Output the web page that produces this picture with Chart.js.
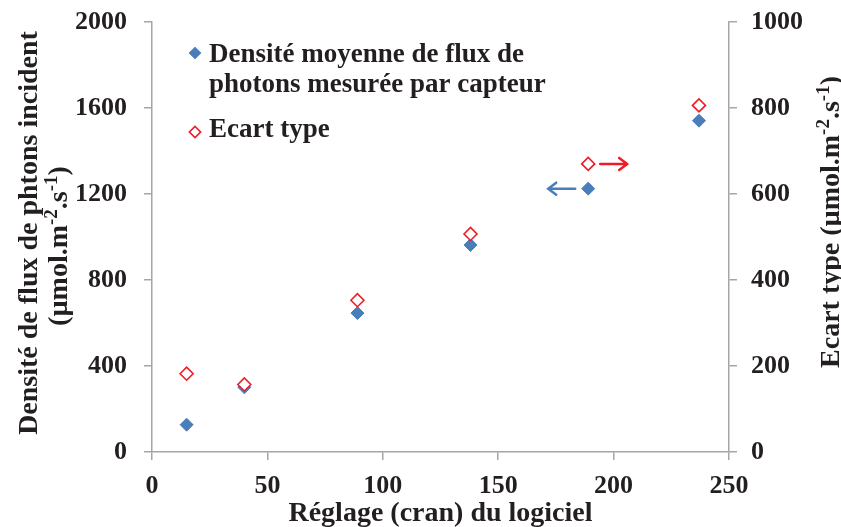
<!DOCTYPE html>
<html>
<head>
<meta charset="utf-8">
<script src="https://cdn.jsdelivr.net/npm/chart.js@4.4.1/dist/chart.umd.min.js"></script>
<style>
  html, body { margin: 0; padding: 0; background: #fff; }
  #wrap { width: 841px; height: 527px; position: relative; }
</style>
</head>
<body>
<div id="wrap"><canvas id="chart"></canvas></div>
<script>
// Réglage du logiciel (cran) and the two measured series
const settings = [15, 40, 89, 138, 189, 237];
const meanFlux = [127, 301, 646, 963, 1225, 1541];   // left axis
const stdDev   = [182, 157, 353, 507, 670, 806];     // right axis

const xTicks = [0, 50, 100, 150, 200, 250];
const leftTicks = [0, 400, 800, 1200, 1600, 2000];
const rightTicks = [0, 200, 400, 600, 800, 1000];

const legendLines = [
  ['Densité moyenne de flux de', 'photons mesurée par capteur'],
  ['Ecart type'],
];

// axis titles as runs of text; sup runs are drawn as superscripts
const unitRuns = [
  { t: '(µmol.m' }, { t: '-2', sup: true }, { t: '.s' }, { t: '-1', sup: true }, { t: ')' },
];
const xTitle = [{ t: 'Réglage (cran) du logiciel' }];
const leftTitle1 = [{ t: 'Densité de flux de phtons incident' }];
const leftTitle2 = unitRuns;
const rightTitle = [{ t: 'Ecart type ' }].concat(unitRuns);

const COLORS = {
  blue: '#4a7ebb',
  red: '#ee1c25',
  axis: '#a6a6a6',
  text: '#231f20',
};
const FONT = 'Liberation Serif';
const TITLE_SIZE = 28;

const tickFont = { family: FONT, size: 26, weight: 'bold' };

function drawRuns(ctx, runs, size) {
  const main = `bold ${size}px "${FONT}"`;
  const small = `bold ${Math.round(size * 0.68)}px "${FONT}"`;
  let w = 0;
  runs.forEach(r => { ctx.font = r.sup ? small : main; w += ctx.measureText(r.t).width; });
  let x = -w / 2;
  runs.forEach(r => {
    ctx.font = r.sup ? small : main;
    ctx.fillText(r.t, x, r.sup ? -size * 0.36 : 0);
    x += ctx.measureText(r.t).width;
  });
}

// cx, cy: centre along the text, baseline position across it
function drawTitle(ctx, runs, cx, cy, vertical) {
  ctx.save();
  ctx.translate(cx, cy);
  if (vertical) ctx.rotate(-Math.PI / 2);
  ctx.fillStyle = COLORS.text;
  ctx.textBaseline = 'alphabetic';
  ctx.textAlign = 'left';
  drawRuns(ctx, runs, TITLE_SIZE);
  ctx.restore();
}

const axisTitles = {
  id: 'axisTitles',
  afterDraw(chart) {
    const { ctx, chartArea } = chart;
    const mid = (chartArea.left + chartArea.right) / 2;
    drawTitle(ctx, xTitle, mid, 521, false);
    drawTitle(ctx, leftTitle1, 37, 233, true);
    drawTitle(ctx, leftTitle2, 67, 246, true);
    drawTitle(ctx, rightTitle, 839, 222, true);
  },
};

// side arrows next to the 189 point, showing which axis each series uses
const arrowAt = 4;
const axisArrows = {
  id: 'axisArrows',
  afterDatasetsDraw(chart) {
    const { ctx, scales } = chart;
    const x = scales.x.getPixelForValue(settings[arrowAt]);
    const draw = (y, x0, x1, color) => {
      const dir = Math.sign(x1 - x0);
      ctx.save();
      ctx.strokeStyle = color;
      ctx.lineWidth = 2.5;
      ctx.lineCap = 'round';
      ctx.beginPath();
      ctx.moveTo(x0, y);
      ctx.lineTo(x1, y);
      ctx.moveTo(x1 - dir * 8, y - 6);
      ctx.lineTo(x1, y);
      ctx.lineTo(x1 - dir * 8, y + 6);
      ctx.stroke();
      ctx.restore();
    };
    draw(scales.y.getPixelForValue(meanFlux[arrowAt]), x - 13, x - 40, COLORS.blue);
    draw(scales.y2.getPixelForValue(stdDev[arrowAt]), x + 12, x + 39, COLORS.red);
  },
};

// two-line legend in the upper left of the plot
const legendBaselines = [[62, 92], [137]];
const legendMarkerY = [53, 132];
const sideLegend = {
  id: 'sideLegend',
  afterDraw(chart) {
    const { ctx } = chart;
    const mx = 195, tx = 209;
    ctx.save();
    ctx.font = `bold 27px "${FONT}"`;
    ctx.textBaseline = 'alphabetic';
    ctx.fillStyle = COLORS.text;
    chart.data.datasets.forEach((ds, i) => {
      ctx.save();
      ctx.translate(mx, legendMarkerY[i]);
      ctx.rotate(Math.PI / 4);
      ctx.fillStyle = ds.backgroundColor;
      ctx.strokeStyle = ds.borderColor;
      ctx.lineWidth = ds.borderWidth;
      ctx.beginPath();
      ctx.rect(-4, -4, 8, 8);
      ctx.fill();
      ctx.stroke();
      ctx.restore();
      legendLines[i].forEach((line, j) => ctx.fillText(line, tx, legendBaselines[i][j]));
    });
    ctx.restore();
  },
};

const tickGrid = {
  display: true,
  drawOnChartArea: false,
  drawTicks: true,
  tickLength: 8,
  color: COLORS.axis,
  lineWidth: 1.5,
};
const border = { display: true, color: COLORS.axis, width: 1.5 };
const plain = (v) => String(v);

// fixed box sizes so the plot area does not move with the label widths
function fixBox(size) {
  return (s) => {
    if (s.isHorizontal()) s.height = size; else s.width = size;
    s.paddingTop = 0; s.paddingBottom = 0; s.paddingLeft = 0; s.paddingRight = 0;
  };
}

new Chart(document.getElementById('chart'), {
  type: 'scatter',
  data: {
    datasets: [
      {
        label: legendLines[0].join(' '),
        data: settings.map((s, i) => ({ x: s, y: meanFlux[i] })),
        yAxisID: 'y',
        pointStyle: 'rectRot',
        pointRadius: 6.5,
        backgroundColor: COLORS.blue,
        borderColor: COLORS.blue,
        borderWidth: 1,
        order: 2,
      },
      {
        label: legendLines[1].join(' '),
        data: settings.map((s, i) => ({ x: s, y: stdDev[i] })),
        yAxisID: 'y2',
        pointStyle: 'rectRot',
        pointRadius: 6.5,
        backgroundColor: '#ffffff',
        borderColor: COLORS.red,
        borderWidth: 1.6,
        order: 1,
      },
    ],
  },
  options: {
    responsive: true,
    maintainAspectRatio: false,
    animation: false,
    layout: { padding: { top: 22, right: 0, bottom: 0, left: 0 } },
    plugins: { legend: { display: false }, tooltip: { enabled: false } },
    scales: {
      x: {
        type: 'linear',
        min: 0, max: 250,
        afterBuildTicks: (s) => { s.ticks = xTicks.map(v => ({ value: v })); },
        afterFit: fixBox(75),
        grid: tickGrid,
        border,
        ticks: { font: tickFont, color: COLORS.text, padding: 11, callback: plain },
      },
      y: {
        position: 'left',
        min: 0, max: 2000,
        afterBuildTicks: (s) => { s.ticks = leftTicks.map(v => ({ value: v })); },
        afterFit: fixBox(152),
        grid: tickGrid,
        border,
        ticks: { font: tickFont, color: COLORS.text, padding: 17, callback: plain },
      },
      y2: {
        position: 'right',
        min: 0, max: 1000,
        afterBuildTicks: (s) => { s.ticks = rightTicks.map(v => ({ value: v })); },
        afterFit: fixBox(112),
        grid: tickGrid,
        border,
        ticks: { font: tickFont, color: COLORS.text, padding: 14, callback: plain },
      },
    },
  },
  plugins: [axisArrows, sideLegend, axisTitles],
});
</script>
</body>
</html>
